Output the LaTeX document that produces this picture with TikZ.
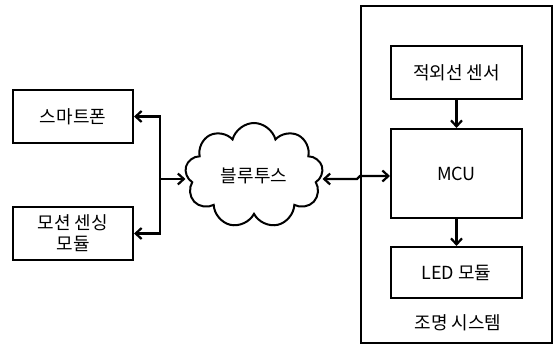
\documentclass[tikz,border=0pt]{standalone}
\usepackage{fontspec}
\setmainfont{Noto Sans CJK KR}
\usetikzlibrary{shapes.symbols,arrows.meta}
\begin{document}
\begin{tikzpicture}[x=1pt,y=-1pt,
  txt/.style={font=\fontsize{18}{21}\selectfont},
  box/.style={draw,line width=2pt,inner sep=0pt,txt,align=center},
  tip/.style={},
  arr/.style={line width=2.2pt,-{Straight Barb[length=6pt,width=11pt,line width=2.2pt]}},
  darr/.style={line width=2.2pt,{Straight Barb[length=6pt,width=11pt,line width=2.2pt]}-{Straight Barb[length=6pt,width=11pt,line width=2.2pt]}}]
\useasboundingbox (0,0) rectangle (553,345);
\draw[line width=1.4pt] (361,6) rectangle (552,343);
\node[box,minimum width=120pt,minimum height=53pt] (phone) at (73,116.5) {스마트폰};
\node[box,minimum width=120pt,minimum height=53pt] (motion) at (73,233.5) {모션 센싱\\모듈};
\node[draw,line width=2pt,cloud,cloud puffs=9,aspect=1.35,minimum width=138pt,minimum height=105pt,inner sep=0pt,txt] (cloud) at (254,175.5) {블루투스};
\node[box,minimum width=131pt,minimum height=53pt] (ir) at (456.5,72.5) {적외선 센서};
\node[box,minimum width=131pt,minimum height=89pt] (mcu) at (456.5,173.5) {MCU};
\node[box,minimum width=131pt,minimum height=51pt] (led) at (456.5,272.5) {LED 모듈};
\node[txt] (sys) at (458,323) {조명 시스템};
\coordinate (j) at (160,179);
\coordinate (k) at (357,179);
\coordinate (k2) at (360,176);
\draw[arr] (j) |- (phone.east);
\draw[arr] (j) |- (motion.east);
\draw[arr] (j) -- (j -| cloud.west);
\draw[darr] (cloud.east |- k) -- (k) -- (k2) -- (mcu.west |- k2);
\draw[arr] (ir.south) -- (mcu.north);
\draw[arr] (mcu.south) -- (led.north);
\end{tikzpicture}
\end{document}
